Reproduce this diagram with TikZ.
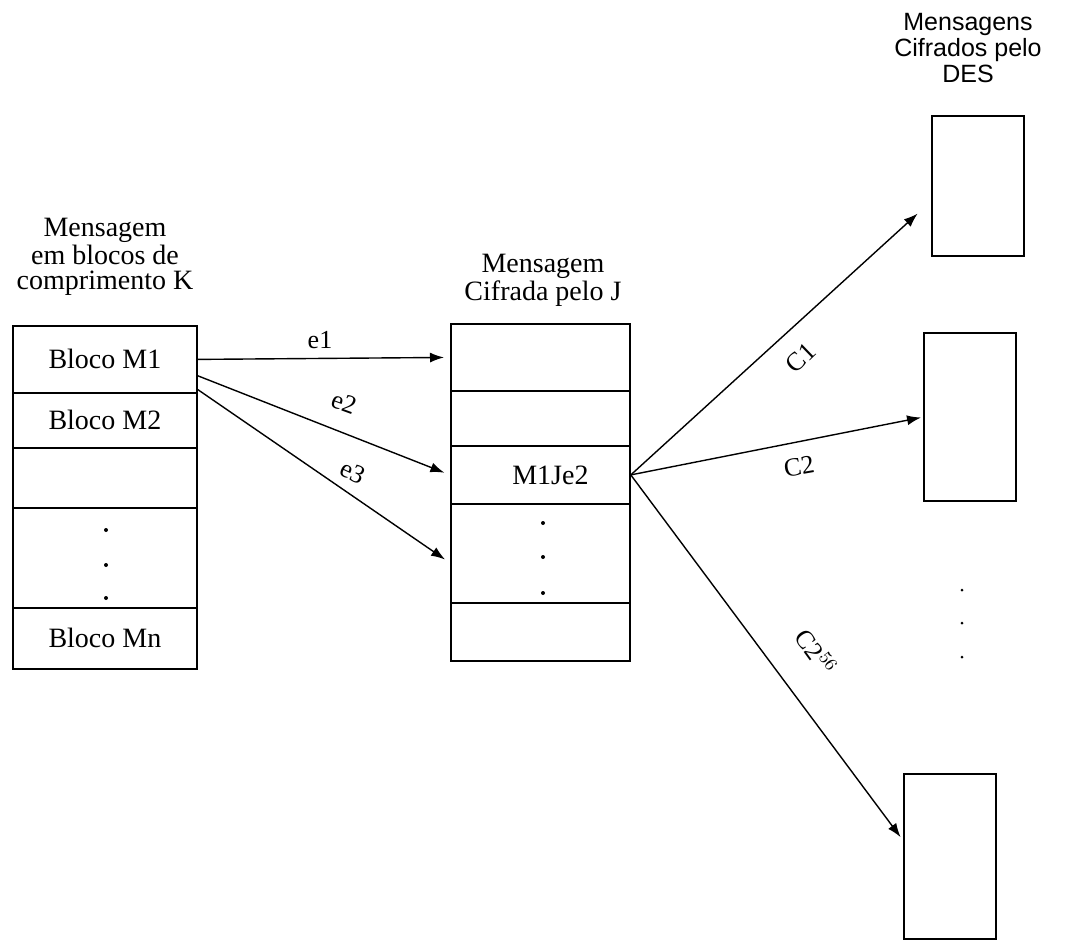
\documentclass[tikz,border=0pt]{standalone}
\usepackage{fontspec}
\setmainfont{Liberation Serif}
\newfontfamily\sansf{Liberation Sans}
\usetikzlibrary{arrows.meta}
\begin{document}
\begin{tikzpicture}[x=0.5pt,y=-0.5pt,
  rowbox/.style={draw,line width=0.9pt,inner sep=0pt,anchor=north west,font=\fontsize{14}{16}\selectfont},
  outbox/.style={draw,line width=1.1pt,inner sep=0pt,anchor=north west,minimum width=46pt},
  lbl/.style={font=\fontsize{14}{12.5}\selectfont,align=center,inner sep=0pt},
  slbl/.style={font=\sansf\fontsize{12.5}{13}\selectfont,align=center,inner sep=0pt},
  elbl/.style={font=\fontsize{13}{14}\selectfont,inner sep=0pt},
  arr/.style={line width=0.7pt,-{Latex[length=7pt,width=5pt]}},
  dotm/.style={fill,circle,inner sep=0pt,minimum size=2pt}
]
\useasboundingbox (0,0) rectangle (1072,943);

% left block
\node[rowbox,minimum width=92pt,minimum height=33.5pt] (L1) at (12,325) {Bloco M1};
\node[rowbox,minimum width=92pt,minimum height=27.5pt] (L2) at (12,392) {Bloco M2};
\node[rowbox,minimum width=92pt,minimum height=30pt] (L3) at (12,447) {};
\node[rowbox,minimum width=92pt,minimum height=50pt] (L4) at (12,507) {};
\node[rowbox,minimum width=92pt,minimum height=30.5pt] (L5) at (12,607) {Bloco Mn};
\node[dotm] (ld1) at (106,530) {};
\node[dotm] (ld2) at (106,565) {};
\node[dotm] (ld3) at (106,598) {};

% middle block
\node[rowbox,minimum width=89.5pt,minimum height=33.5pt] (M1) at (450,323) {};
\node[rowbox,minimum width=89.5pt,minimum height=27.5pt] (M2) at (450,390) {};
\node[rowbox,minimum width=89.5pt,minimum height=29pt] (M3) at (450,445) {\hspace{10pt}M1Je2};
\node[rowbox,minimum width=89.5pt,minimum height=49.5pt] (M4) at (450,503) {};
\node[rowbox,minimum width=89.5pt,minimum height=29pt] (M5) at (450,602) {};
\node[dotm] (md1) at (543,523) {};
\node[dotm] (md2) at (543,557) {};
\node[dotm] (md3) at (543,593) {};

% right boxes
\node[outbox,minimum height=70pt] (R1) at (931,115) {};
\node[outbox,minimum height=84pt] (R2) at (923,332) {};
\node[outbox,minimum height=82.5pt] (R3) at (903,773) {};
\node[dotm,minimum size=1.5pt] (rd1) at (962,590) {};
\node[dotm,minimum size=1.5pt] (rd2) at (962,623) {};
\node[dotm,minimum size=1.5pt] (rd3) at (962,657) {};

% titles
\node[lbl] (tl) at (105,257) {Mensagem\\em blocos de\\comprimento K};
\node[lbl] (tm) at (543,280) {Mensagem\\Cifrada pelo J};
\node[slbl] (tr) at (968,48) {Mensagens\\Cifrados pelo\\DES};

% arrows left -> middle
\draw[arr,shorten >=3pt] (L1.east) -- (M1.west);
\draw[arr,shorten >=3pt] (L1.-10) -- (M3.west);
\draw[arr,shorten >=3pt] (L1.-18) -- (M4.186);
\node[elbl] (e1) at (320,340) {e1};
\node[elbl,rotate=-20] (e2) at (344,403) {e2};
\node[elbl,rotate=-25] (e3) at (353,472) {e3};

% arrows middle -> right
\draw[arr,shorten >=9pt] (M3.east) -- (R1.198);
\draw[arr,shorten >=1pt] (M3.east) -- (R2.west);
\draw[arr,shorten >=2pt] (M3.east) -- (R3.161);
\node[elbl,rotate=44] (c1) at (801,358) {C1};
\node[elbl,rotate=10] (c2) at (799,467) {C2};
\node[elbl,rotate=-54] (c3) at (816,652) {C2$^{56}$};
\end{tikzpicture}
\end{document}
